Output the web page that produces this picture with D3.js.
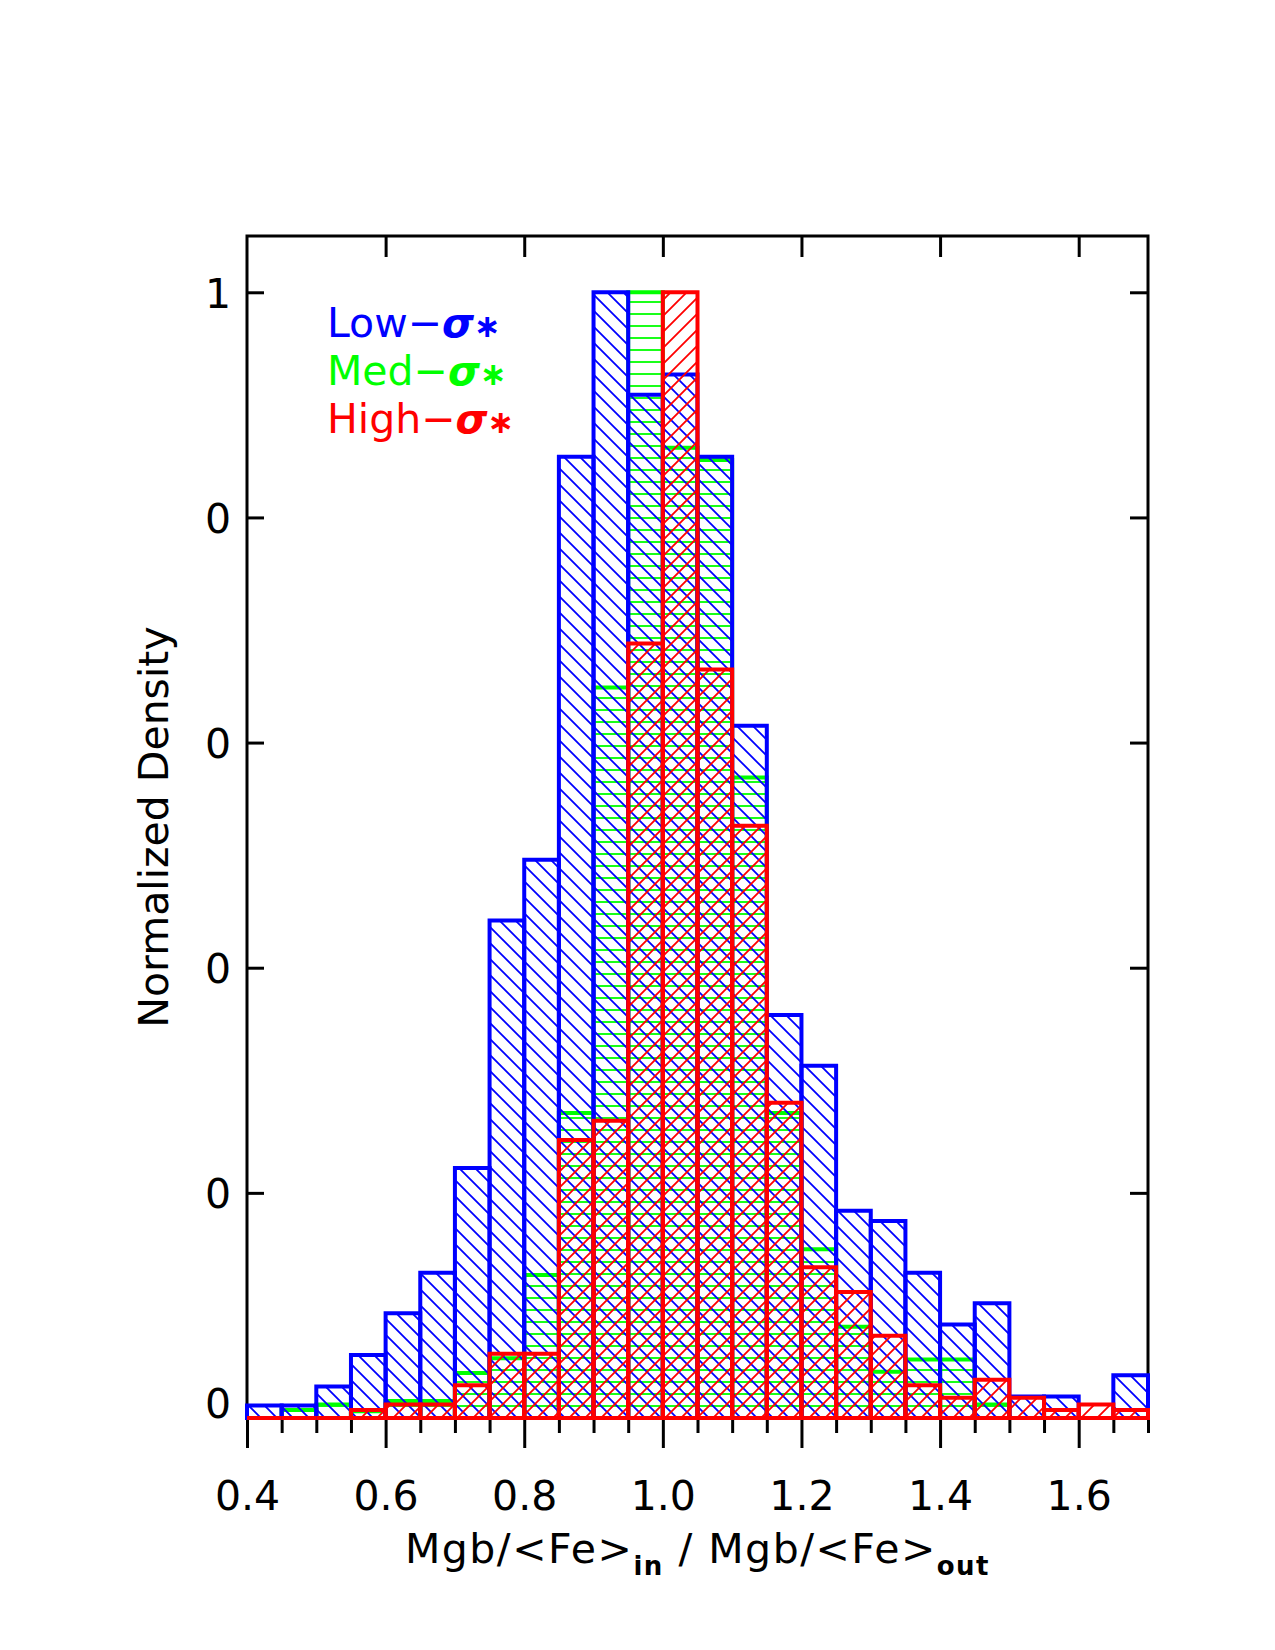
<!DOCTYPE html>
<html>
<head>
<meta charset="utf-8">
<script src="https://cdn.jsdelivr.net/npm/d3@7"></script>
<style>
  body { margin: 0; background: #fff; }
  svg text { font-family: "DejaVu Sans", sans-serif; fill: #000; }
</style>
</head>
<body>
<div id="chart"></div>
<script>
// left edge of every histogram bin (width 0.05)
const binLeft = [0.40, 0.45, 0.50, 0.55, 0.60, 0.65, 0.70, 0.75, 0.80, 0.85, 0.90, 0.95, 1.00,
                 1.05, 1.10, 1.15, 1.20, 1.25, 1.30, 1.35, 1.40, 1.45, 1.50, 1.55, 1.60, 1.65];
const binWidth = 0.05;

// normalized densities
const lowSigma  = [0.011, 0.011, 0.028, 0.056, 0.093, 0.129, 0.222, 0.442, 0.496, 0.854, 1.000, 0.909, 0.927,
                   0.854, 0.615, 0.358, 0.313, 0.184, 0.175, 0.129, 0.083, 0.102, 0.019, 0.019, 0.000, 0.038];
const medSigma  = [0.000, 0.007, 0.012, 0.006, 0.015, 0.015, 0.040, 0.053, 0.127, 0.271, 0.649, 1.000, 0.862,
                   0.851, 0.569, 0.271, 0.150, 0.081, 0.041, 0.052, 0.052, 0.012, 0.000, 0.000, 0.000, 0.000];
const highSigma = [0.000, 0.000, 0.000, 0.007, 0.012, 0.012, 0.029, 0.057, 0.057, 0.247, 0.264, 0.688, 1.000,
                   0.665, 0.526, 0.280, 0.134, 0.112, 0.073, 0.029, 0.018, 0.034, 0.018, 0.007, 0.012, 0.007];

// axis ticks and labels
const xMajorTicks = [0.4, 0.6, 0.8, 1.0, 1.2, 1.4, 1.6];
const xMajorLabels = ["0.4", "0.6", "0.8", "1.0", "1.2", "1.4", "1.6"];
const xMinorTicks = [0.45, 0.5, 0.55, 0.65, 0.7, 0.75, 0.85, 0.9, 0.95, 1.05, 1.1, 1.15,
                     1.25, 1.3, 1.35, 1.45, 1.5, 1.55, 1.65, 1.7];
const xTopTicks = [0.6, 0.8, 1.0, 1.2, 1.4, 1.6];
const yTicks = [0.2, 0.4, 0.6, 0.8, 1.0];
const yLabelValues = [0, 0.2, 0.4, 0.6, 0.8, 1.0];
const yLabels = ["0", "0", "0", "0", "0", "1"];

const legendNames = ["Low", "Med", "High"];
const seriesColors = ["#0000ff", "#00ff00", "#ff0000"];

// layout
const margin = { top: 236, right: 127, bottom: 232, left: 247 };
const totalW = 1275, totalH = 1650;
const width = totalW - margin.left - margin.right;
const height = totalH - margin.top - margin.bottom;

const svg = d3.select("#chart").append("svg")
    .attr("width", totalW)
    .attr("height", totalH);

const defs = svg.append("defs");

// hatch patterns (one line per tile, corners patched so lines run on)
const pd = 16;   // diagonal hatch period
const ph = 12;   // horizontal hatch period
defs.append("pattern").attr("id", "hatchBlue")
    .attr("patternUnits", "userSpaceOnUse").attr("width", pd).attr("height", pd)
    .append("path")
    .attr("d", `M0,0L${pd},${pd}M-2,${pd-2}L2,${pd+2}M${pd-2},-2L${pd+2},2`)
    .attr("stroke", seriesColors[0]).attr("stroke-width", 1.8);

defs.append("pattern").attr("id", "hatchGreen")
    .attr("patternUnits", "userSpaceOnUse").attr("width", ph).attr("height", ph)
    .append("path")
    .attr("d", `M0,${ph/2}L${ph},${ph/2}`)
    .attr("stroke", seriesColors[1]).attr("stroke-width", 1.8);

defs.append("pattern").attr("id", "hatchRed")
    .attr("patternUnits", "userSpaceOnUse").attr("width", pd).attr("height", pd)
    .append("path")
    .attr("d", `M0,${pd}L${pd},0M-2,2L2,-2M${pd-2},${pd+2}L${pd+2},${pd-2}`)
    .attr("stroke", seriesColors[2]).attr("stroke-width", 1.8);

const g = svg.append("g").attr("transform", `translate(${margin.left},${margin.top})`);

const x = d3.scaleLinear().domain([0.4, 1.7]).range([0, width]);
const y = d3.scaleLinear().domain([0, 1.05]).range([height, 0]);

// frame
g.append("rect")
    .attr("x", 0).attr("y", 0).attr("width", width).attr("height", height)
    .attr("fill", "none").attr("stroke", "#000").attr("stroke-width", 3);

function styleAxis(sel) {
    sel.select(".domain").remove();
    sel.selectAll(".tick line").attr("stroke", "#000").attr("stroke-width", 3);
}

// bottom: minor and major ticks pointing outward
g.append("g").attr("transform", `translate(0,${height})`)
    .call(d3.axisBottom(x).tickValues(xMinorTicks).tickSize(15).tickFormat(""))
    .call(styleAxis);

const xMajor = g.append("g").attr("transform", `translate(0,${height})`)
    .call(d3.axisBottom(x).tickValues(xMajorTicks).tickSize(30)
        .tickFormat((d, i) => xMajorLabels[i]))
    .call(styleAxis);
xMajor.selectAll(".tick text")
    .attr("y", 92).attr("dy", null)
    .style("font-size", "41px")
    .style("font-family", "DejaVu Sans");

// top ticks (inward)
g.append("g")
    .call(d3.axisBottom(x).tickValues(xTopTicks).tickSize(21).tickFormat(""))
    .call(styleAxis);

// left and right ticks (inward)
g.append("g")
    .call(d3.axisRight(y).tickValues(yTicks).tickSize(17).tickFormat(""))
    .call(styleAxis);
g.append("g").attr("transform", `translate(${width},0)`)
    .call(d3.axisLeft(y).tickValues(yTicks).tickSize(18).tickFormat(""))
    .call(styleAxis);

// y labels
g.selectAll(".ylab")
    .data(yLabelValues)
    .enter().append("text")
    .attr("class", "ylab")
    .attr("x", -16)
    .attr("y", d => y(d))
    .attr("dy", d => d === 0 ? "0em" : "0.38em")
    .attr("text-anchor", "end")
    .style("font-size", "41px")
    .text((d, i) => yLabels[i]);

// histograms
function drawHist(values, color, pattern) {
    const bars = binLeft.map((b, i) => ({ x0: b, x1: b + binWidth, v: values[i] }));
    const grp = g.append("g");
    grp.selectAll("path")
        .data(bars)
        .enter().append("path")
        .attr("d", d => `M${x(d.x0)},${y(0)}L${x(d.x0)},${y(d.v)}L${x(d.x1)},${y(d.v)}L${x(d.x1)},${y(0)}Z`)
        .attr("fill", `url(#${pattern})`)
        .attr("stroke", color)
        .attr("stroke-width", 4)
        .attr("stroke-linejoin", "miter");
}

drawHist(medSigma, seriesColors[1], "hatchGreen");
drawHist(lowSigma, seriesColors[0], "hatchBlue");
drawHist(highSigma, seriesColors[2], "hatchRed");

// legend
const legend = g.append("g").attr("transform", "translate(80,101)");
legendNames.forEach((name, i) => {
    const t = legend.append("text")
        .attr("x", 0)
        .attr("y", i * 48)
        .style("font-size", "41px")
        .style("fill", seriesColors[i]);
    t.append("tspan").text(name + "\u2212");
    t.append("tspan").style("font-weight", "bold").style("font-style", "italic").text("\u03c3");
    t.append("tspan").style("font-weight", "bold").style("font-size", "32px").text("\u2217");
});

// axis titles
const xt = svg.append("text")
    .attr("x", margin.left + width / 2)
    .attr("y", 1563)
    .attr("text-anchor", "middle")
    .style("font-size", "41px")
    .style("letter-spacing", "1.5px");
xt.append("tspan").text("Mgb/<Fe>");
xt.append("tspan").attr("dy", 12).style("font-size", "26px").style("font-weight", "bold").text("in");
xt.append("tspan").attr("dy", -12).text(" / Mgb/<Fe>");
xt.append("tspan").attr("dy", 12).style("font-size", "26px").style("font-weight", "bold").text("out");

svg.append("text")
    .attr("transform", "translate(168,827) rotate(-90)")
    .attr("text-anchor", "middle")
    .style("font-size", "41px")
    .text("Normalized Density");
</script>
</body>
</html>
